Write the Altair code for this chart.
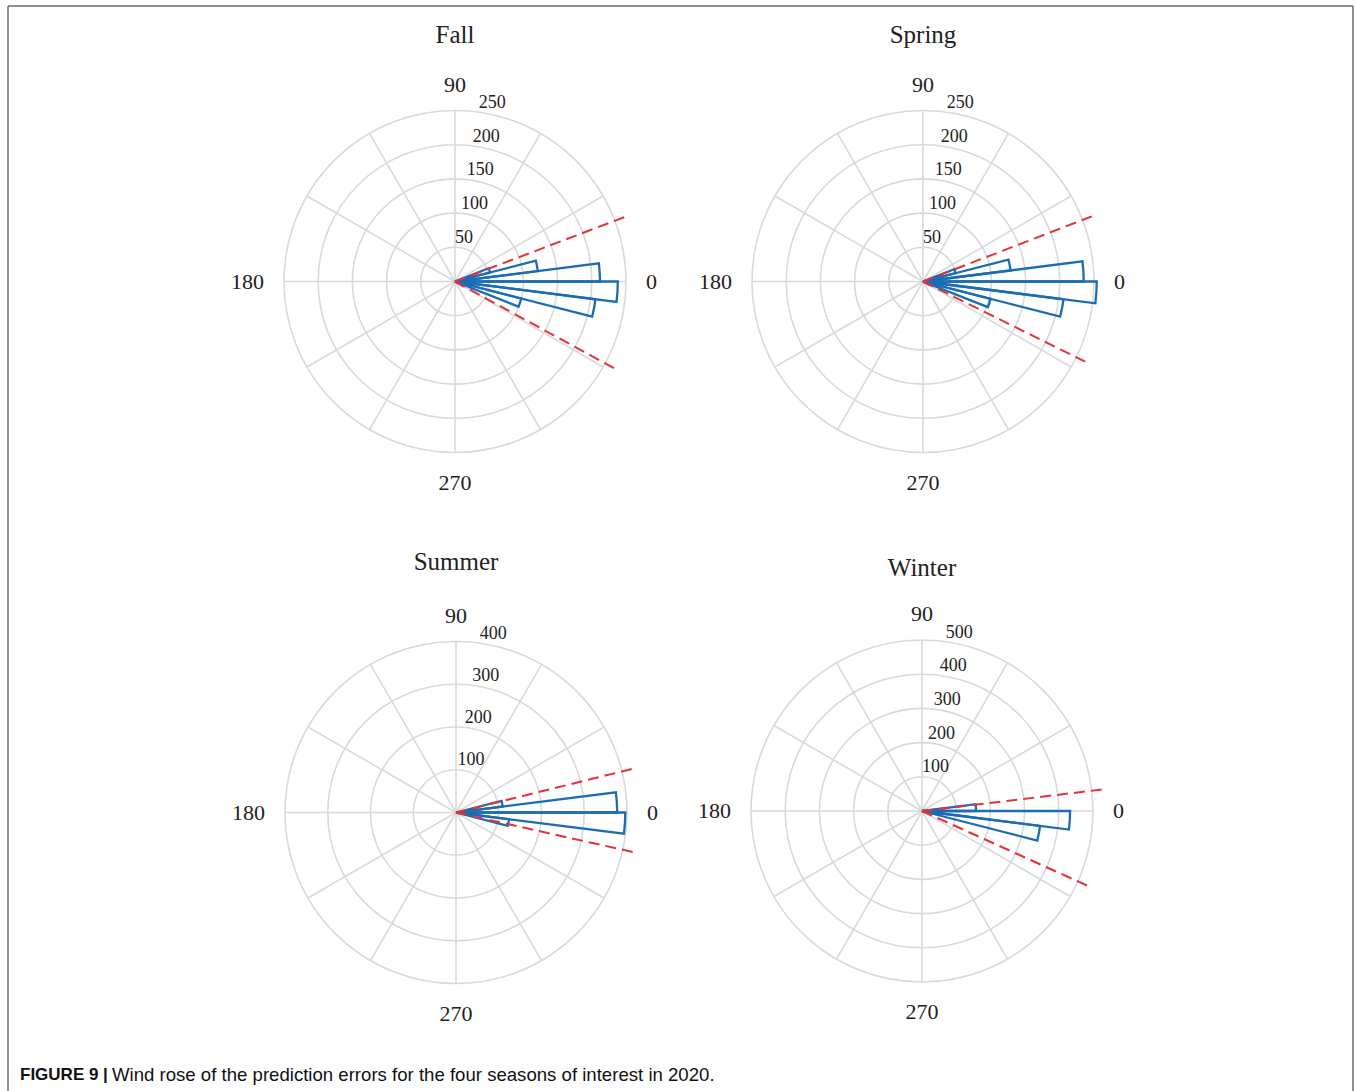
import math

import altair as alt
import pandas as pd

# ---------------------------------------------------------------------------
# Data: direction-binned counts of prediction errors for each season
# ---------------------------------------------------------------------------
BIN_WIDTH = 7.2  # degrees covered by one direction bin

SEASONS = ["Fall", "Spring", "Summer", "Winter"]

# lower edge of each bin (degrees, counter-clockwise from east) and its count
FALL_BIN_START = [-28.8, -21.6, -14.4, -7.2, 0.0, 7.2, 14.4]
FALL_COUNTS = [12, 100, 207, 238, 212, 122, 53]

SPRING_BIN_START = [-28.8, -21.6, -14.4, -7.2, 0.0, 7.2, 14.4]
SPRING_COUNTS = [10, 102, 207, 254, 235, 129, 49]

SUMMER_BIN_START = [-14.4, -7.2, 0.0, 7.2]
SUMMER_COUNTS = [125, 396, 377, 110]

WINTER_BIN_START = [-21.6, -14.4, -7.2, 0.0]
WINTER_COUNTS = [14, 348, 433, 158]

# radial tick values (last one is the outer ring)
FALL_R_TICKS = [50, 100, 150, 200, 250]
SPRING_R_TICKS = [50, 100, 150, 200, 250]
SUMMER_R_TICKS = [100, 200, 300, 400]
WINTER_R_TICKS = [100, 200, 300, 400, 500]

# dashed limit directions (degrees) per season
LIMIT_UPPER = [20.8, 21.1, 13.9, 6.8]
LIMIT_LOWER = [-28.6, -26.3, -12.6, -24.3]

THETA_LABELS = [0, 90, 180, 270]
SPOKE_ANGLES = list(range(0, 360, 30))

CAPTION_BOLD = "FIGURE 9 |"
CAPTION_TEXT = "Wind rose of the prediction errors for the four seasons of interest in 2020."

# ---------------------------------------------------------------------------
# Layout (plot-area pixels, y grows downwards)
# ---------------------------------------------------------------------------
W, H = 1345, 1085
R_PX = 171            # pixel radius of the outer ring
LIMIT_REACH = 1.085   # dashed lines run a little past the outer ring
R_LABEL_ANGLE = 80    # direction along which radial ticks are labelled
CENTERS = {
    "Fall": (447, 275.5),
    "Spring": (915, 275.5),
    "Summer": (448, 806.5),
    "Winter": (914, 805.0),
}
TITLE_GAP = {"Fall": 247, "Spring": 247, "Summer": 251, "Winter": 243}
# angle label: (pixel radius, align, baseline)
THETA_LABEL_STYLE = {
    0: (191, "left", "middle"),
    90: (190, "center", "alphabetic"),
    180: (191, "right", "middle"),
    270: (191, "center", "top"),
}

SERIF = "Liberation Serif"
SANS = "Liberation Sans"
GRID = "#d9d9d9"
BAR_BLUE = "#1a6db3"
LIMIT_RED = "#e3323a"
TEXT = "#222222"

bins = {
    "Fall": (FALL_BIN_START, FALL_COUNTS, FALL_R_TICKS),
    "Spring": (SPRING_BIN_START, SPRING_COUNTS, SPRING_R_TICKS),
    "Summer": (SUMMER_BIN_START, SUMMER_COUNTS, SUMMER_R_TICKS),
    "Winter": (WINTER_BIN_START, WINTER_COUNTS, WINTER_R_TICKS),
}


def polar_xy(season, radius_px, angle_deg):
    cx, cy = CENTERS[season]
    a = math.radians(angle_deg)
    return cx + radius_px * math.cos(a), cy - radius_px * math.sin(a)


wedge_rows, ring_rows, spoke_rows, limit_rows = [], [], [], []
rlabel_rows, tlabel_rows, title_rows = [], [], []
for i, season in enumerate(SEASONS):
    starts, counts, ticks = bins[season]
    rmax = ticks[-1]
    cx, cy = CENTERS[season]
    # histogram wedges: Vega angles run clockwise from north
    for s, c in zip(starts, counts):
        wedge_rows.append({"season": season, "cx": cx, "cy": cy,
                           "t1": 90 - (s + BIN_WIDTH), "t2": 90 - s,
                           "frac": c / rmax, "count": c})
    for t in ticks:
        ring_rows.append({"season": season, "cx": cx, "cy": cy,
                          "t1": 0, "t2": 360, "frac": t / rmax})
        x, y = polar_xy(season, R_PX * t / rmax, R_LABEL_ANGLE)
        rlabel_rows.append({"x": x, "y": y, "label": str(t)})
    for a in SPOKE_ANGLES:
        x2, y2 = polar_xy(season, R_PX, a)
        spoke_rows.append({"x": cx, "y": cy, "x2": x2, "y2": y2})
    for a in (LIMIT_UPPER[i], LIMIT_LOWER[i]):
        x2, y2 = polar_xy(season, R_PX * LIMIT_REACH, a)
        limit_rows.append({"x": cx, "y": cy, "x2": x2, "y2": y2})
    for a in THETA_LABELS:
        x, y = polar_xy(season, THETA_LABEL_STYLE[a][0], a)
        tlabel_rows.append({"x": x, "y": y, "label": str(a), "angle": a})
    title_rows.append({"x": cx, "y": cy - TITLE_GAP[season], "label": season})

wedges = pd.DataFrame(wedge_rows)
rings = pd.DataFrame(ring_rows)
spokes = pd.DataFrame(spoke_rows)
limits = pd.DataFrame(limit_rows)
rlabels = pd.DataFrame(rlabel_rows)
tlabels = pd.DataFrame(tlabel_rows)
titles = pd.DataFrame(title_rows)

# ---------------------------------------------------------------------------
# Scales
# ---------------------------------------------------------------------------
xs = alt.Scale(domain=[0, W], range=[0, W], zero=False, nice=False)
ys = alt.Scale(domain=[0, H], range=[0, H], zero=False, nice=False)
theta_s = alt.Scale(type="linear", domain=[0, 360], range=[0, 2 * math.pi])
rad_s = alt.Scale(type="linear", domain=[0, 1], range=[0, R_PX])


def X(f):
    return alt.X(f, type="quantitative", scale=xs, axis=None)


def Y(f):
    return alt.Y(f, type="quantitative", scale=ys, axis=None)


ring_layer = alt.Chart(rings).mark_arc(
    filled=False, stroke=GRID, strokeWidth=1.6
).encode(
    x=X("cx"), y=Y("cy"),
    theta=alt.Theta("t1:Q", scale=theta_s, stack=False),
    theta2="t2:Q",
    radius=alt.Radius("frac:Q", scale=rad_s),
)

spoke_layer = alt.Chart(spokes).mark_rule(color=GRID, strokeWidth=1.6).encode(
    x=X("x"), y=Y("y"), x2="x2:Q", y2="y2:Q"
)

wedge_layer = alt.Chart(wedges).mark_arc(
    filled=False, stroke=BAR_BLUE, strokeWidth=2.3, strokeJoin="miter"
).encode(
    x=X("cx"), y=Y("cy"),
    theta=alt.Theta("t1:Q", scale=theta_s, stack=False),
    theta2="t2:Q",
    radius=alt.Radius("frac:Q", scale=rad_s),
)

limit_layer = alt.Chart(limits).mark_rule(
    color=LIMIT_RED, strokeWidth=2.0, strokeDash=[11, 6]
).encode(x=X("x"), y=Y("y"), x2="x2:Q", y2="y2:Q")

rlabel_layer = alt.Chart(rlabels).mark_text(
    font=SERIF, fontSize=18, color=TEXT, align="left", baseline="middle",
    dx=-6, dy=-10,
).encode(x=X("x"), y=Y("y"), text="label:N")

tlabel_layers = []
for a in THETA_LABELS:
    _, align, base = THETA_LABEL_STYLE[a]
    tlabel_layers.append(
        alt.Chart(tlabels).transform_filter(alt.datum.angle == a).mark_text(
            font=SERIF, fontSize=22, color=TEXT, align=align, baseline=base
        ).encode(x=X("x"), y=Y("y"), text="label:N")
    )

title_layer = alt.Chart(titles).mark_text(
    font=SERIF, fontSize=25, color=TEXT, align="center", baseline="middle"
).encode(x=X("x"), y=Y("y"), text="label:N")

# caption and frame
caption_bold = alt.Chart(pd.DataFrame({"t": [CAPTION_BOLD]})).mark_text(
    font=SANS, fontSize=17, fontWeight="bold", color="#111111",
    align="left", baseline="middle"
).encode(x=alt.value(12), y=alt.value(1069), text="t:N")

caption_text = alt.Chart(pd.DataFrame({"t": [CAPTION_TEXT]})).mark_text(
    font=SANS, fontSize=18.6, color="#111111", align="left", baseline="middle"
).encode(x=alt.value(104), y=alt.value(1069), text="t:N")

frame_style = dict(color="#6b6b6b", strokeWidth=1.5)
frame_left = alt.Chart().mark_rule(**frame_style).encode(
    x=alt.value(0), y=alt.value(0), y2=alt.value(H))
frame_top = alt.Chart().mark_rule(**frame_style).encode(
    x=alt.value(0), x2=alt.value(W), y=alt.value(0))
frame_right = alt.Chart().mark_rule(**frame_style).encode(
    x=alt.value(W), y=alt.value(0), y2=alt.value(H))

chart = alt.layer(
    ring_layer, spoke_layer, wedge_layer, limit_layer,
    rlabel_layer, *tlabel_layers, title_layer,
    caption_bold, caption_text, frame_left, frame_top, frame_right,
).properties(
    width=W, height=H,
    autosize=alt.AutoSizeParams(type="none"),
    padding={"left": 8, "top": 6, "right": 3, "bottom": 0},
    background="white",
).configure_view(stroke=None)

chart.save("out.html", embed_options={"renderer": "svg", "actions": False})
